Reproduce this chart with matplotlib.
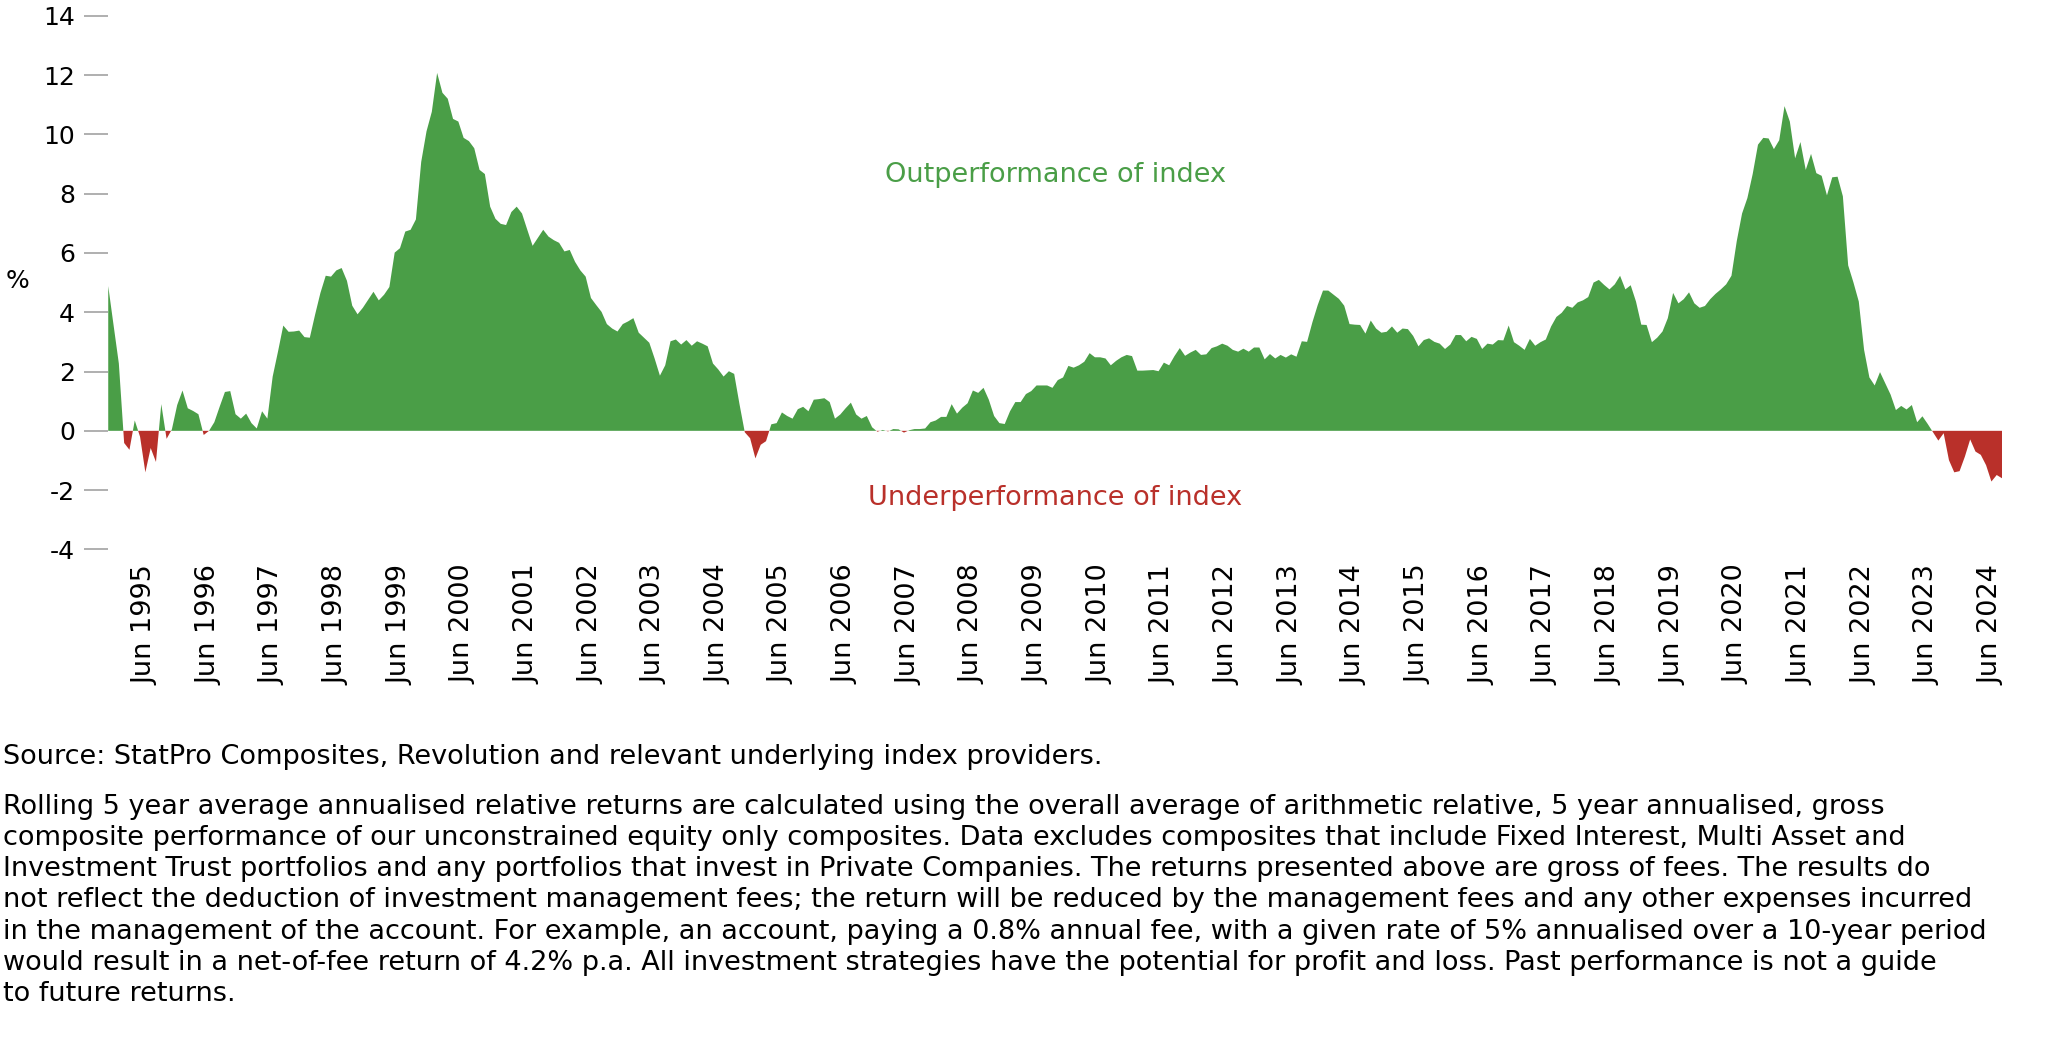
import numpy as np
import pandas as pd
import matplotlib
matplotlib.use('Agg')
import matplotlib.pyplot as plt

# rolling 5 year relative return (%), monthly from Nov 1994
start_month = '1994-11'
rel_return = [
    4.88, 3.57, 2.27, -0.41, -0.64, 0.35, -0.2, -1.4, -0.58, -1.05, 0.9, -0.27,
    0.05, 0.87, 1.36, 0.76, 0.67, 0.56, -0.14, 0.0, 0.29, 0.81, 1.31, 1.34,
    0.56, 0.41, 0.58, 0.26, 0.08, 0.66, 0.41, 1.83, 2.67, 3.55, 3.34, 3.35,
    3.38, 3.16, 3.14, 3.92, 4.65, 5.23, 5.2, 5.41, 5.49, 5.06, 4.22, 3.93,
    4.15, 4.42, 4.69, 4.4, 4.59, 4.85, 6.01, 6.16, 6.72, 6.78, 7.13,
    9.07, 10.1, 10.76, 12.07, 11.4, 11.2, 10.52, 10.43, 9.88, 9.77,
    9.53, 8.8, 8.66, 7.56, 7.15, 6.98, 6.94, 7.38, 7.56, 7.33,
    6.78, 6.24, 6.51, 6.78, 6.55, 6.43, 6.34, 6.05, 6.1, 5.7,
    5.41, 5.2, 4.48, 4.24, 4.01, 3.6, 3.45, 3.35, 3.6, 3.69,
    3.8, 3.31, 3.14, 2.97, 2.44, 1.86, 2.21, 3.02, 3.08, 2.91,
    3.06, 2.87, 3.02, 2.94, 2.85, 2.27, 2.07, 1.83, 2.01, 1.92,
    0.9, -0.05, -0.25, -0.93, -0.47, -0.35, 0.22, 0.26, 0.62, 0.5,
    0.41, 0.73, 0.81, 0.66, 1.05, 1.07, 1.1, 0.97, 0.41, 0.55,
    0.76, 0.95, 0.55, 0.41, 0.5, 0.12, -0.03, 0.03, -0.02, 0.06,
    0.05, -0.06, 0.02, 0.06, 0.06, 0.08, 0.29, 0.35, 0.47, 0.47,
    0.9, 0.58, 0.78, 0.93, 1.36, 1.28, 1.45, 1.05, 0.5, 0.26,
    0.23, 0.66, 0.97, 0.97, 1.24, 1.34, 1.53, 1.53, 1.53, 1.45,
    1.71, 1.8, 2.19, 2.13, 2.21, 2.33, 2.62, 2.48, 2.48, 2.44,
    2.21, 2.36, 2.48, 2.56, 2.52, 2.03, 2.03, 2.04, 2.05, 2.01,
    2.3, 2.21, 2.52, 2.79, 2.53, 2.64, 2.73, 2.56, 2.58, 2.79,
    2.85, 2.94, 2.87, 2.73, 2.67, 2.77, 2.67, 2.81, 2.81, 2.41,
    2.59, 2.44, 2.56, 2.47, 2.58, 2.5, 3.02, 3.0, 3.66, 4.24,
    4.73, 4.73, 4.59, 4.45, 4.22, 3.6, 3.58, 3.57, 3.28, 3.72, 3.45,
    3.31, 3.34, 3.52, 3.31, 3.45, 3.43, 3.2, 2.85, 3.06, 3.12,
    3.0, 2.94, 2.76, 2.91, 3.23, 3.23, 3.02, 3.17, 3.1, 2.76,
    2.94, 2.91, 3.06, 3.05, 3.55, 2.99, 2.87, 2.73, 3.1, 2.87,
    2.99, 3.08, 3.52, 3.84, 3.98, 4.21, 4.15, 4.33, 4.4, 4.51,
    5.0, 5.09, 4.92, 4.77, 4.94, 5.23, 4.77, 4.91, 4.36, 3.58,
    3.57, 2.99, 3.14, 3.35, 3.8, 4.65, 4.3, 4.44, 4.67, 4.3,
    4.15, 4.21, 4.44, 4.62, 4.77, 4.94, 5.23, 6.4, 7.33, 7.85,
    8.66, 9.65, 9.88, 9.86, 9.5, 9.8, 10.95, 10.43, 9.19, 9.74,
    8.8, 9.34, 8.69, 8.6, 7.94, 8.55, 8.57, 7.91, 5.58, 5.0,
    4.36, 2.73, 1.8, 1.53, 1.98, 1.6, 1.22, 0.7, 0.84, 0.72,
    0.87, 0.29, 0.49, 0.23, -0.05, -0.33, -0.08, -0.99, -1.4, -1.36,
    -0.87, -0.29, -0.7, -0.81, -1.16, -1.71, -1.49, -1.6,
]
label_month = 6  # June labels
y_ticks = [-4, -2, 0, 2, 4, 6, 8, 10, 12, 14]

source_note = 'Source: StatPro Composites, Revolution and relevant underlying index providers.'
footnote_lines = [
    'Rolling 5 year average annualised relative returns are calculated using the overall average of arithmetic relative, 5 year annualised, gross',
    'composite performance of our unconstrained equity only composites. Data excludes composites that include Fixed Interest, Multi Asset and',
    'Investment Trust portfolios and any portfolios that invest in Private Companies. The returns presented above are gross of fees. The results do',
    'not reflect the deduction of investment management fees; the return will be reduced by the management fees and any other expenses incurred',
    'in the management of the account. For example, an account, paying a 0.8% annual fee, with a given rate of 5% annualised over a 10-year period',
    'would result in a net-of-fee return of 4.2% p.a. All investment strategies have the potential for profit and loss. Past performance is not a guide',
    'to future returns.',
]

green = '#4a9e47'
red = '#b9302a'

plt.rcParams['font.family'] = ['DejaVu Sans']

months = pd.period_range(start_month, periods=len(rel_return), freq='M')
x = np.arange(len(rel_return))
y = np.array(rel_return)

fig = plt.figure(figsize=(20.46, 10.40), dpi=100)
ax = fig.add_axes([0.0529, 0.4717, 0.9256, 0.5132])

ax.fill_between(x, y, 0, where=y >= 0, interpolate=True, color=green, linewidth=0)
ax.fill_between(x, y, 0, where=y <= 0, interpolate=True, color=red, linewidth=0)

ax.set_xlim(x[0], x[-1])
ax.set_ylim(-4, 14)
ax.set_yticks(y_ticks)
ax.set_yticklabels([str(t) for t in y_ticks])

tick_pos = [i for i, m in enumerate(months) if m.month == label_month]
ax.set_xticks(tick_pos)
ax.set_xticklabels([f'Jun {months[i].year}' for i in tick_pos], rotation=90)

for s in ax.spines.values():
    s.set_visible(False)
ax.tick_params(axis='y', length=17, width=1.1, color='#9a9a9a', pad=7, labelsize=18)
ax.tick_params(axis='x', length=0, pad=11, labelsize=19.5)

ax.text(-0.048, 0.503, '%', transform=ax.transAxes, ha='center', va='center', fontsize=18)

ax.text(0.5, 8.62, 'Outperformance of index', transform=ax.get_yaxis_transform(),
        ha='center', va='center', color=green, fontsize=19.5)
ax.text(0.5, -2.25, 'Underperformance of index', transform=ax.get_yaxis_transform(),
        ha='center', va='center', color=red, fontsize=19.5)

fig.text(0.0015, 0.2721, source_note, ha='left', va='center', fontsize=19.5)
for k, line in enumerate(footnote_lines):
    fig.text(0.0015, 0.2245 - k * 0.0301, line, ha='left', va='center', fontsize=19.5)

fig.savefig('out.png', dpi=100)
